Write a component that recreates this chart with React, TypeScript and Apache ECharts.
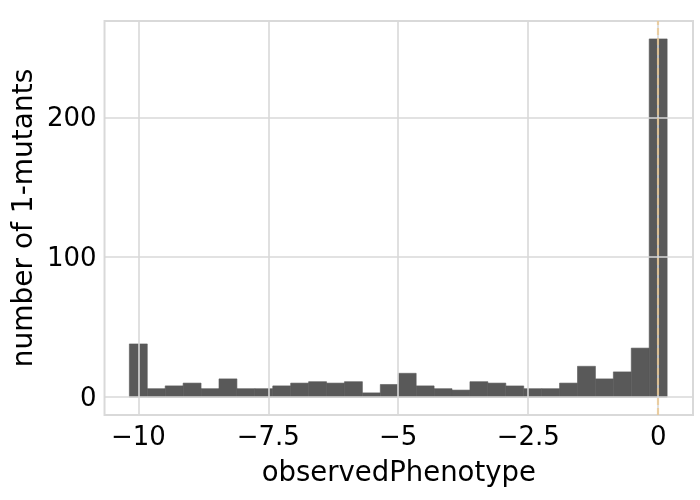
import React, { useEffect, useRef } from "react";
import * as echarts from "echarts";

// histogram counts per bin (30 bins, centred from -10 to 0)
const counts = [38, 6, 8, 10, 6, 13, 6, 6, 8, 10, 11, 10, 11, 3, 9, 17, 8, 6, 5, 11, 10, 8, 6, 6, 10, 22, 13, 18, 35, 256];
const binStart = -10 - 5 / 29;
const binWidth = 10 / 29;
const xTicks = [-10, -7.5, -5, -2.5, 0];
const yTicks = [0, 100, 200];
const xMin = -10.65;
const xMax = 0.67;
const yMin = -12.8;
const yMax = 268.8;
const refLineX = 0;

const fmt = (v: number) => (v < 0 ? "\u2212" + String(-v) : String(v));

export default function App() {
  const ref = useRef<HTMLDivElement>(null);
  useEffect(() => {
    const chart = echarts.init(ref.current!, null, { renderer: "svg" });
    const data = counts.map((c, k) => [binStart + k * binWidth, binStart + (k + 1) * binWidth, c]);
    const gridColor = "#d9d9d9";
    const font = "DejaVu Sans";
    const gridLines: any[] = [
      ...xTicks.map((v) => ({ xAxis: v, lineStyle: { color: gridColor, width: 1.6, type: "solid" } })),
      ...yTicks.map((v) => ({ yAxis: v, lineStyle: { color: gridColor, width: 1.6, type: "solid" } })),
      { xAxis: refLineX, lineStyle: { color: "rgba(240,190,110,0.55)", width: 2.2, type: [7, 3] } },
    ];
    chart.setOption({
      animation: false,
      grid: {
        left: 102,
        right: 7,
        top: 21,
        bottom: 85,
        show: true,
        borderColor: gridColor,
        borderWidth: 2,
        backgroundColor: "transparent",
      },
      xAxis: {
        type: "value",
        min: xMin,
        max: xMax,
        axisLine: { show: false },
        axisTick: { show: false },
        splitLine: { show: false },
        axisLabel: {
          customValues: xTicks,
          formatter: fmt,
          fontSize: 26,
          color: "#000",
          fontFamily: font,
          margin: 8,
        },
        name: "observedPhenotype",
        nameLocation: "middle",
        nameGap: 42,
        nameTextStyle: { fontSize: 27.5, color: "#000", fontFamily: font },
      },
      yAxis: {
        type: "value",
        min: yMin,
        max: yMax,
        axisLine: { show: false },
        axisTick: { show: false },
        splitLine: { show: false },
        axisLabel: {
          customValues: yTicks,
          formatter: fmt,
          fontSize: 26,
          color: "#000",
          fontFamily: font,
          margin: 8,
        },
        name: "number of 1-mutants",
        nameLocation: "middle",
        nameGap: 62,
        nameTextStyle: { fontSize: 28, color: "#000", fontFamily: font },
      },
      series: [
        {
          type: "custom",
          data,
          encode: { x: [0, 1], y: 2 },
          renderItem: (params: any, api: any) => {
            const p0 = api.coord([api.value(0), api.value(2)]);
            const p1 = api.coord([api.value(1), 0]);
            return {
              type: "rect",
              shape: { x: p0[0], y: p0[1], width: p1[0] - p0[0], height: p1[1] - p0[1] },
              style: { fill: "#595959", stroke: "#595959", lineWidth: 0.6 },
            };
          },
          markLine: {
            silent: true,
            symbol: ["none", "none"],
            label: { show: false },
            data: gridLines,
          },
        },
      ],
    });
    return () => chart.dispose();
  }, []);
  return <div ref={ref} style={{ position: "fixed", left: 0, top: 0, width: 700, height: 500 }} />;
}
